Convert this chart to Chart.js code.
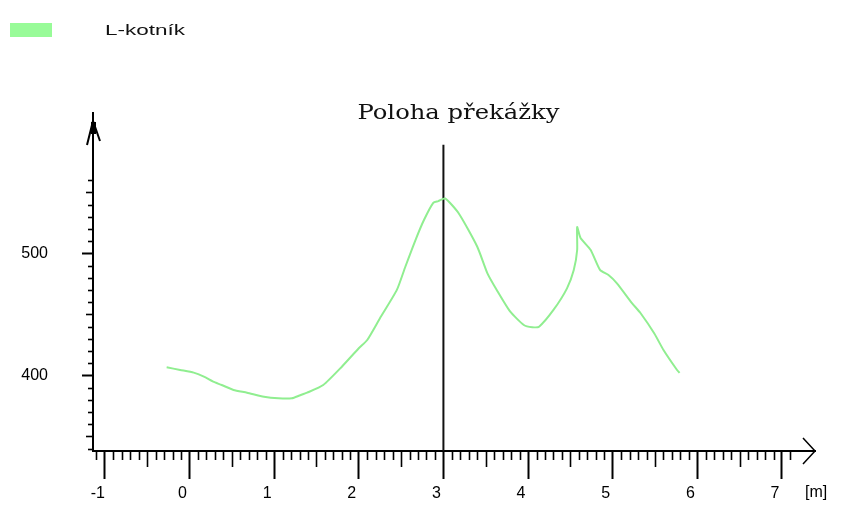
<!DOCTYPE html>
<html>
<head>
<meta charset="utf-8">
<script src="https://cdn.jsdelivr.net/npm/chart.js@4/dist/chart.umd.min.js"></script>
<style>
  html, body { margin: 0; padding: 0; background: #fff; }
  #wrap { width: 841px; height: 505px; }
</style>
</head>
<body>
<div id="wrap"><canvas id="c" width="841" height="505"></canvas></div>
<script>
// Measured ankle trajectory along the walkway
const seriesName = 'L-kotník';
const xValues = [-0.27, -0.11, 0.05, 0.17, 0.28, 0.38, 0.52, 0.68, 0.88, 1.05, 1.21, 1.30, 1.39, 1.58, 1.80,
                 2.00, 2.10, 2.25, 2.45, 2.55, 2.67, 2.77, 2.88, 2.94, 3.02, 3.18, 3.40, 3.52, 3.63, 3.79,
                 3.95, 4.05, 4.13, 4.30, 4.46, 4.54, 4.58, 4.58, 4.62, 4.74, 4.85, 4.95, 5.05, 5.23, 5.33,
                 5.49, 5.60, 5.76, 5.79];
const yValues = [406.6, 404.4, 402.2, 398.9, 394.8, 392.1, 388.0, 385.8, 382.5, 381.2, 381.2, 383.5, 385.8, 392.1, 407.1,
                 422.2, 429.0, 446.8, 470.0, 489.0, 510.9, 527.3, 541.4, 542.8, 545.0, 532.8, 505.4, 483.6, 470.0, 452.2,
                 441.3, 439.5, 439.9, 453.6, 471.3, 486.3, 502.7, 521.5, 512.6, 502.7, 486.4, 482.2, 475.4, 459.0, 450.9,
                 434.5, 420.8, 404.4, 402.0];

// Axis labels and ranges
const xTickLabels = [-1, 0, 1, 2, 3, 4, 5, 6, 7];
const yTickLabels = [400, 500];
const xUnit = '[m]';
const xMin = -1.14, xMax = 7.39;
const yMin = 338, yMax = 615;

// Obstacle position marker
const obstacleLabel = 'Poloha překážky';
const obstacleX = 3;
const obstacleTop = 589;

const seriesColor = '#90EE90';
const legendColor = '#98FB98';
const sansFont = "'Liberation Sans', Arial, sans-serif";
const serifFont = "'DejaVu Serif', 'Liberation Serif', serif";

// Draws the fine tick marks, axis arrows, unit text, marker caption and legend
const decorPlugin = {
  id: 'decor',
  afterDraw(chart) {
    const ctx = chart.ctx;
    const xs = chart.scales.x, ys = chart.scales.y;
    const area = chart.chartArea;
    ctx.save();
    ctx.strokeStyle = '#000';
    ctx.fillStyle = '#000';

    // minor / half ticks under the x axis
    ctx.lineWidth = 1.6;
    for (let i = -11; i <= 71; i++) {
      if (i % 10 === 0) continue;
      const px = Math.round(xs.getPixelForValue(i / 10)) + 0.5;
      const len = (i % 5 === 0) ? 16 : 9;
      ctx.beginPath();
      ctx.moveTo(px, area.bottom);
      ctx.lineTo(px, area.bottom + len);
      ctx.stroke();
    }
    // minor / half ticks left of the y axis
    for (let i = 34; i <= 56; i++) {
      if (i % 10 === 0) continue;
      const py = Math.round(ys.getPixelForValue(i * 10)) + 0.5;
      const len = (i % 5 === 0) ? 7 : 5;
      ctx.beginPath();
      ctx.moveTo(area.left, py);
      ctx.lineTo(area.left - len, py);
      ctx.stroke();
    }

    // x axis arrow head
    ctx.lineWidth = 1.5;
    ctx.beginPath();
    ctx.moveTo(area.right - 12, area.bottom - 13);
    ctx.lineTo(area.right, area.bottom);
    ctx.lineTo(area.right - 12, area.bottom + 13);
    ctx.stroke();

    // y axis arrow head
    ctx.lineWidth = 2;
    ctx.beginPath();
    ctx.moveTo(area.left - 6, area.top + 32);
    ctx.lineTo(area.left, area.top + 8);
    ctx.lineTo(area.left + 7, area.top + 28);
    ctx.stroke();
    ctx.fillRect(area.left - 2, area.top + 9, 5, 12);

    // unit label at the end of the x axis
    ctx.font = '16px ' + sansFont;
    ctx.textAlign = 'left';
    ctx.textBaseline = 'middle';
    ctx.fillText(xUnit, area.right - 10, area.bottom + 42);

    // caption above the obstacle marker
    const ox = xs.getPixelForValue(obstacleX);
    const oy = ys.getPixelForValue(obstacleTop);
    ctx.font = '21px ' + serifFont;
    const tw = ctx.measureText(obstacleLabel).width;
    const sx = 202 / tw;
    ctx.save();
    ctx.translate(ox + 15, oy - 26);
    ctx.scale(sx, 1);
    ctx.textAlign = 'center';
    ctx.textBaseline = 'alphabetic';
    ctx.fillStyle = '#111';
    ctx.fillText(obstacleLabel, 0, 0);
    ctx.restore();

    // legend
    ctx.fillStyle = legendColor;
    ctx.fillRect(10, 23, 42, 14);
    ctx.font = '15px ' + sansFont;
    const lw = ctx.measureText(seriesName).width;
    ctx.save();
    ctx.translate(105, 35);
    ctx.scale(80 / lw, 1);
    ctx.fillStyle = '#111';
    ctx.textAlign = 'left';
    ctx.textBaseline = 'alphabetic';
    ctx.fillText(seriesName, 0, 0);
    ctx.restore();

    ctx.restore();
  }
};

const points = xValues.map((x, i) => ({ x: x, y: yValues[i] }));

new Chart(document.getElementById('c'), {
  type: 'scatter',
  data: {
    datasets: [
      {
        label: seriesName,
        data: points,
        showLine: true,
        borderColor: seriesColor,
        backgroundColor: seriesColor,
        borderWidth: 2,
        pointRadius: 0,
        tension: 0.2,
        fill: false
      },
      {
        label: obstacleLabel,
        data: [{ x: obstacleX, y: yMin }, { x: obstacleX, y: obstacleTop }],
        showLine: true,
        borderColor: '#111',
        borderWidth: 2,
        pointRadius: 0,
        fill: false
      }
    ]
  },
  options: {
    responsive: false,
    animation: false,
    devicePixelRatio: 1,
    layout: { padding: { top: 113, right: 26, left: 0, bottom: 0 } },
    plugins: {
      legend: { display: false },
      tooltip: { enabled: false },
      title: { display: false }
    },
    scales: {
      x: {
        type: 'linear',
        position: 'bottom',
        min: xMin,
        max: xMax,
        afterBuildTicks: s => { s.ticks = xTickLabels.map(v => ({ value: v })); },
        afterFit: s => { s.height = 54; },
        grid: { drawOnChartArea: false, drawTicks: true, tickLength: 28, tickWidth: 2, tickColor: '#000' },
        border: { display: true, color: '#000', width: 2 },
        ticks: { color: '#000', font: { family: sansFont, size: 16 }, padding: 5, labelOffset: -7, autoSkip: false, maxRotation: 0 }
      },
      y: {
        type: 'linear',
        position: 'left',
        min: yMin,
        max: yMax,
        afterBuildTicks: s => { s.ticks = yTickLabels.map(v => ({ value: v })); },
        afterFit: s => { s.width = 93; },
        grid: { drawOnChartArea: false, drawTicks: true, tickLength: 11, tickWidth: 2, tickColor: '#000' },
        border: { display: true, color: '#000', width: 2 },
        ticks: { color: '#000', font: { family: sansFont, size: 16 }, padding: 34, autoSkip: false }
      }
    }
  },
  plugins: [decorPlugin]
});
</script>
</body>
</html>
